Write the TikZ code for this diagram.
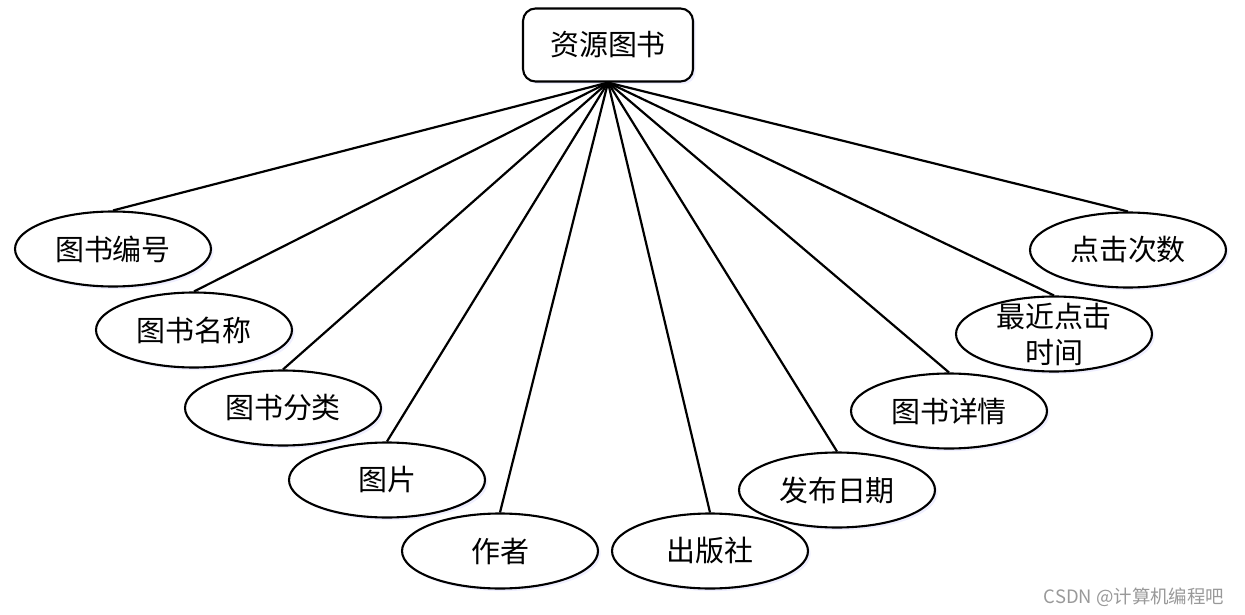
\documentclass[tikz,border=0pt]{standalone}
\usepackage{fontspec}
\setmainfont{Noto Sans CJK SC}
\usepackage{tikz}
\usetikzlibrary{shapes.geometric,shadows}

\begin{document}
\begin{tikzpicture}[x=0.02cm,y=-0.02cm,
    entity/.style={draw,line width=1.2pt,rounded corners=0.25cm,fill=white,
        minimum width=3.4cm,minimum height=1.46cm,inner sep=0pt,
        font=\fontsize{16.5}{20}\selectfont,
        drop shadow={fill=blue!8,shadow xshift=1.5pt,shadow yshift=-1.5pt,opacity=0.8}},
    attr/.style={draw,ellipse,line width=1.2pt,fill=white,
        minimum width=3.92cm,minimum height=1.5cm,inner sep=0pt,
        font=\fontsize{16.5}{20}\selectfont,
        drop shadow={fill=blue!8,shadow xshift=1.5pt,shadow yshift=-1.5pt,opacity=0.8}},
    link/.style={line width=1.25pt}]
    \useasboundingbox (0,0) rectangle (1245,615);
    \node[entity] (book) at (608,45){资源图书};
    \node[attr] (a1) at (113,249){图书编号};
    \node[attr] (a2) at (194,330){图书名称};
    \node[attr] (a3) at (283,408){图书分类};
    \node[attr] (a4) at (387,480){图片};
    \node[attr] (a5) at (500,551){作者};
    \node[attr] (a6) at (710,551){出版社};
    \node[attr] (a7) at (837,490){发布日期};
    \node[attr] (a8) at (949,411){图书详情};
    \node[attr,align=center,inner ysep=-0.2cm,
        font=\fontsize{16.5}{20.5}\selectfont] (a9) at (1054,334){最近点击\\时间};
    \node[attr] (a10) at (1128,250){点击次数};
    \foreach \i in {1,...,10}
        \draw[link] (book.south) -- (a\i.north);
    \node[text=gray!80,font=\fontsize{10.5}{12}\selectfont] (mark) at (1134,597){CSDN @计算机编程吧};
\end{tikzpicture}
\end{document}
